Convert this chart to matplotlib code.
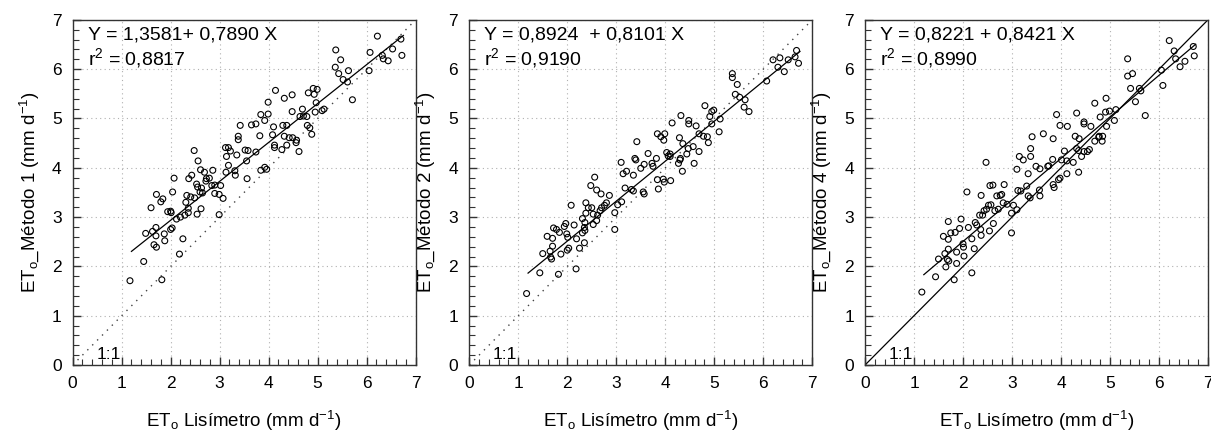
import matplotlib
matplotlib.use('Agg')
import matplotlib.pyplot as plt
from matplotlib.ticker import MultipleLocator, AutoMinorLocator

plt.rcParams['font.family'] = ['Liberation Sans', 'DejaVu Sans']
plt.rcParams['mathtext.fontset'] = 'custom'
plt.rcParams['mathtext.rm'] = 'Liberation Sans'
plt.rcParams['mathtext.it'] = 'Liberation Sans'
plt.rcParams['mathtext.default'] = 'regular'

# Metodo 1
x1 = [6.22, 5.37, 5.47, 6.07, 6.32, 6.34, 6.44, 5.36, 5.43, 5.63, 5.52, 5.61, 6.05, 5.71,
      4.14, 4.32, 4.48, 3.99, 3.84, 3.99, 3.92, 4.48, 4.81, 4.91, 4.99, 4.93, 4.97, 5.09, 5.13,
      4.69, 4.64, 4.78, 4.71, 4.95, 4.79, 4.84, 4.88, 3.42, 3.65, 3.74, 3.82, 3.38, 3.38, 4.10,
      4.29, 4.37, 4.08, 4.32, 4.42, 4.49, 4.57, 4.56, 4.37, 4.27, 4.12, 4.12, 4.62,
      3.12, 3.18, 3.22, 3.14, 3.35, 3.52, 3.58, 3.74, 3.55, 2.48, 2.56, 2.61, 2.69, 2.86, 3.18,
      3.13, 3.31, 3.32, 3.84, 3.92, 3.96, 2.07, 2.37, 2.43, 2.53, 2.73, 2.79, 2.72, 2.55, 2.60,
      2.63, 2.90, 3.02, 2.84, 3.56, 1.71, 2.04, 1.84, 2.33, 2.41, 2.49, 2.90, 2.99, 3.07,
      1.80, 1.60, 1.94, 2.01, 2.00, 2.65, 2.31, 2.36, 2.36, 2.29, 2.20, 2.12, 2.54, 2.62, 2.99,
      1.49, 1.63, 1.70, 1.70, 1.87, 2.03, 2.00, 1.66, 1.71, 1.88, 2.25, 2.18, 1.45, 1.82, 1.17,
      6.53, 6.70, 6.72]
y1 = [6.67, 6.39, 6.19, 6.34, 6.28, 6.21, 6.17, 6.04, 5.91, 5.97, 5.79, 5.74, 5.97, 5.38,
      5.57, 5.41, 5.48, 5.33, 5.08, 5.09, 4.96, 5.14, 5.52, 5.61, 5.59, 5.49, 5.32, 5.16, 5.19,
      5.19, 5.04, 5.04, 5.05, 5.13, 4.86, 4.81, 4.68, 4.86, 4.87, 4.89, 4.65, 4.64, 4.57, 4.83,
      4.86, 4.86, 4.67, 4.64, 4.61, 4.61, 4.56, 4.51, 4.46, 4.37, 4.41, 4.46, 4.33,
      4.41, 4.41, 4.34, 4.23, 4.26, 4.36, 4.35, 4.32, 4.14, 4.35, 4.14, 3.96, 3.91, 3.95, 4.05,
      3.91, 3.94, 3.85, 3.95, 4.01, 3.97, 3.79, 3.78, 3.85, 3.67, 3.78, 3.79, 3.73, 3.61, 3.51,
      3.59, 3.65, 3.64, 3.64, 3.78, 3.46, 3.51, 3.37, 3.44, 3.41, 3.39, 3.48, 3.46, 3.38,
      3.31, 3.19, 3.11, 3.09, 3.12, 3.49, 3.30, 3.18, 3.09, 3.04, 3.00, 2.96, 3.06, 3.17, 3.05,
      2.67, 2.71, 2.79, 2.62, 2.66, 2.78, 2.75, 2.44, 2.39, 2.52, 2.56, 2.25, 2.10, 1.73, 1.71,
      6.41, 6.61, 6.28]

# Metodo 2
x2 = [6.20, 6.34, 6.51, 6.30, 6.43, 6.07, 5.37, 5.37, 5.47, 5.43, 5.52, 5.63, 5.61, 5.71,
      4.81, 4.95, 4.99, 4.91, 5.12, 4.95, 5.10, 4.69, 4.78, 4.86, 4.88, 4.32, 4.48, 4.48, 4.63,
      4.14, 3.84, 3.91, 3.99, 3.97, 4.29, 4.36, 4.47, 4.57, 4.69, 4.44, 4.31, 4.27, 4.35, 4.59,
      4.03, 4.10, 4.06, 4.10, 4.30, 3.82, 3.65, 3.42, 3.38, 3.40, 3.57, 3.73, 3.75, 3.50, 3.10,
      3.14, 3.21, 3.35, 3.84, 3.96, 3.98, 4.11, 3.86, 2.56, 2.48, 2.60, 2.69, 2.86, 3.18, 3.31,
      3.35, 3.55, 3.57,
      3.11, 3.03, 2.97, 2.97, 2.76, 2.80, 2.70, 2.67, 2.62, 2.53, 2.60, 2.53, 2.50, 2.43, 2.38,
      2.38, 2.36, 2.31, 2.35, 2.36, 2.31, 2.35, 2.25, 2.18, 2.08, 2.14, 2.19, 2.03, 2.00, 2.01,
      1.99, 1.97, 1.94, 1.84, 1.78, 1.72, 1.70, 1.59, 1.65, 1.68, 1.66, 1.70, 1.50, 1.87, 1.82,
      1.44, 1.17, 6.65, 6.72, 6.68]
y2 = [6.19, 6.23, 6.19, 6.04, 5.95, 5.76, 5.91, 5.83, 5.69, 5.49, 5.43, 5.38, 5.23, 5.14,
      5.26, 5.14, 5.17, 5.04, 4.99, 4.89, 4.73, 4.69, 4.64, 4.63, 4.51, 5.06, 4.96, 4.89, 4.85,
      4.91, 4.69, 4.63, 4.69, 4.56, 4.61, 4.49, 4.39, 4.43, 4.33, 4.28, 4.19, 4.09, 3.93, 4.09,
      4.31, 4.28, 4.24, 4.23, 4.16, 4.19, 4.29, 4.53, 4.19, 4.16, 4.07, 4.09, 4.03, 3.99, 4.11,
      3.88, 3.93, 3.85, 3.76, 3.77, 3.71, 3.74, 3.57, 3.81, 3.64, 3.55, 3.47, 3.44, 3.59, 3.56,
      3.53, 3.51, 3.47,
      3.31, 3.25, 3.09, 2.75, 3.24, 3.29, 3.19, 3.13, 3.04, 2.85, 2.93, 3.06, 3.19, 3.19, 3.29,
      3.08, 2.89, 2.97, 2.79, 2.73, 2.68, 2.48, 2.37, 1.95, 3.24, 2.84, 2.56, 2.37, 2.33, 2.59,
      2.66, 2.87, 2.81, 2.69, 2.75, 2.78, 2.57, 2.61, 2.31, 2.15, 2.19, 2.41, 2.26, 2.25, 1.84,
      1.87, 1.45, 6.25, 6.12, 6.38]

# Metodo 4
x3 = [6.21, 6.31, 6.34, 6.43, 6.53, 6.05, 6.08, 5.36, 5.36, 5.46, 5.42, 5.60, 5.63, 5.52, 5.72,
      4.69, 4.92, 4.99, 4.91, 4.80, 5.12, 5.09, 4.93, 3.91, 4.32, 3.98, 4.13, 4.47, 4.47, 4.61,
      4.29, 4.37, 3.84, 3.64, 3.41, 4.78, 4.85, 4.77, 4.84, 4.69, 4.58, 4.54, 4.32, 4.36, 4.47,
      4.42, 4.07, 4.01, 4.12, 4.25, 4.36, 4.12, 3.98, 3.95, 3.83, 3.75, 3.73, 3.49, 3.57, 3.38,
      3.38, 3.15, 3.23, 3.10, 3.33, 3.30, 3.56, 3.84, 3.86, 3.57, 3.33, 3.37, 3.12, 3.18, 2.47,
      2.84, 2.55, 2.61, 2.69, 2.76, 2.79, 2.37, 2.08,
      2.52, 2.57, 2.48, 2.43, 2.34, 2.40, 2.25, 2.28, 2.36, 2.37, 2.54, 2.62, 2.65, 2.72, 2.82,
      2.90, 3.03, 2.99, 2.99, 3.10, 1.96, 1.93, 1.84, 1.75, 1.70, 1.60, 1.70, 2.11, 2.18, 2.23,
      2.00, 2.01, 2.02, 1.87, 1.70, 1.63, 1.68, 1.71, 1.65, 1.87, 1.50, 2.18, 1.82, 1.44, 1.16,
      6.70, 6.72]
y3 = [6.58, 6.37, 6.21, 6.05, 6.16, 5.98, 5.67, 6.21, 5.86, 5.91, 5.61, 5.61, 5.56, 5.34, 5.06,
      5.31, 5.41, 5.15, 5.13, 5.03, 5.18, 4.96, 4.84, 5.08, 5.11, 4.86, 4.84, 4.93, 4.89, 4.84,
      4.64, 4.59, 4.59, 4.69, 4.63, 4.64, 4.64, 4.62, 4.54, 4.54, 4.37, 4.33, 4.39, 4.35, 4.33,
      4.23, 4.34, 4.16, 4.14, 4.11, 3.91, 3.88, 3.79, 3.76, 4.17, 4.04, 4.03, 4.03, 3.98, 4.39,
      4.23, 4.23, 4.16, 3.97, 3.88, 3.63, 3.55, 3.66, 3.60, 3.43, 3.43, 3.39, 3.54, 3.53, 4.11,
      3.66, 3.64, 3.65, 3.43, 3.44, 3.46, 3.44, 3.51,
      3.24, 3.25, 3.16, 3.13, 3.04, 3.04, 2.89, 2.84, 2.75, 2.63, 2.72, 2.87, 3.13, 3.16, 3.29,
      3.26, 3.24, 3.08, 2.68, 3.15, 2.96, 2.77, 2.69, 2.68, 2.91, 2.61, 2.55, 2.79, 2.56, 2.36,
      2.46, 2.39, 2.21, 2.29, 2.35, 2.26, 2.14, 2.11, 1.99, 2.06, 2.15, 1.87, 1.73, 1.79, 1.48,
      6.46, 6.27]

xs = [x1, x2, x3]
ys = [y1, y2, y3]
intercepts = [1.3581, 0.8924, 0.8221]
slopes = [0.7890, 0.8101, 0.8421]
eq_texts = ['Y = 1,3581+ 0,7890 X', 'Y = 0,8924  + 0,8101 X', 'Y = 0,8221 + 0,8421 X']
r2_texts = ['r$^2$ = 0,8817', 'r$^2$ = 0,9190', 'r$^2$ = 0,8990']
ylabels = ['ET$_o$_Método 1 (mm d$^{-1}$)', 'ET$_o$_Método 2 (mm d$^{-1}$)',
           'ET$_o$_Método 4 (mm d$^{-1}$)']
xlabel = 'ET$_o$ Lisímetro (mm d$^{-1}$)'
line_x = [1.2, 6.75]

fig = plt.figure(figsize=(12.11, 4.32), dpi=100)
lefts = [0.060, 0.3875, 0.7143]

for i in range(3):
    ax = fig.add_axes([lefts[i], 0.155, 0.2832, 0.799])
    ax.set_xlim(0, 7)
    ax.set_ylim(0, 7)
    ax.grid(True, color='#b0b0b0', linestyle=(0, (1, 3)), linewidth=0.8)
    ax.set_axisbelow(True)

    # 1:1 line
    if i == 2:
        ax.plot([0, 7], [0, 7], color='black', linewidth=0.9)
    else:
        ax.plot([0, 7], [0, 7], color='#444444', linestyle=(0, (1, 4)), linewidth=1)

    ax.scatter(xs[i], ys[i], s=18, facecolors='none', edgecolors='black', linewidths=0.8, zorder=3)
    ly = [intercepts[i] + slopes[i] * v for v in line_x]
    ax.plot(line_x, ly, color='black', linewidth=0.9, zorder=4)

    ax.text(0.31, 6.6, eq_texts[i], fontsize=14)
    ax.text(0.31, 6.1, r2_texts[i], fontsize=14)
    ax.text(0.48, 0.13, '1:1', fontsize=12.5)

    ax.xaxis.set_major_locator(MultipleLocator(1))
    ax.yaxis.set_major_locator(MultipleLocator(1))
    ax.xaxis.set_minor_locator(AutoMinorLocator(5))
    ax.yaxis.set_minor_locator(AutoMinorLocator(5))
    ax.tick_params(which='both', direction='in', top=False, right=False, labelsize=12.5,
                   color='#333333')
    ax.tick_params(which='major', length=6, width=1, pad=8)
    ax.tick_params(which='minor', length=4, width=0.8)
    for sp in ax.spines.values():
        sp.set_color('#333333')
        sp.set_linewidth(1)

    ax.set_xlabel(xlabel, fontsize=13.5, labelpad=13)
    ax.set_ylabel(ylabels[i], fontsize=13.5, labelpad=8)

fig.savefig('out.png', dpi=100)
